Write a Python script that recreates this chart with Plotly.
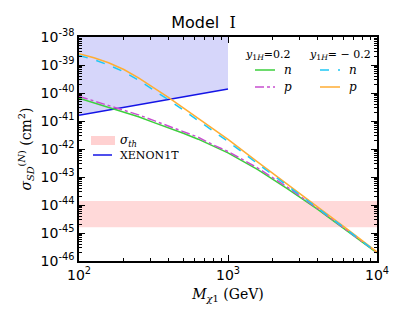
import plotly.graph_objects as go

# ---- data ----
mass = [100, 126, 158, 200, 251, 316, 398, 501, 631, 794, 1000, 1585, 2512, 3981, 6310, 10000]
n_pos = [6.46e-41, 4.47e-41, 3.09e-41, 2.14e-41, 1.41e-41, 8.9e-42, 5.75e-42, 3.63e-42, 2.24e-42, 1.26e-42,
         7.24e-43, 1.82e-43, 3.8e-44, 7.08e-45, 1.17e-45, 1.95e-46]
p_pos = [7.59e-41, 5.25e-41, 3.63e-41, 2.51e-41, 1.66e-41, 1.05e-41, 6.76e-42, 4.27e-42, 2.63e-42, 1.41e-42,
         8.13e-43, 2.09e-43, 4.27e-44, 7.59e-45, 1.23e-45, 2.0e-46]
n_neg = [2.19e-39, 1.55e-39, 1.0e-39, 5.75e-40, 2.88e-40, 1.32e-40, 5.75e-41, 2.45e-41, 1.05e-41, 4.47e-42,
         1.86e-42, 2.95e-43, 4.9e-44, 8.13e-45, 1.29e-45, 2.0e-46]
p_neg = [2.51e-39, 1.82e-39, 1.2e-39, 6.92e-40, 3.47e-40, 1.58e-40, 6.92e-41, 2.95e-41, 1.26e-41, 5.25e-42,
         2.19e-42, 3.39e-43, 5.5e-44, 8.91e-45, 1.38e-45, 2.09e-46]
xenon_mass = [100, 1000]
xenon_sigma = [1.6e-41, 1.4e-40]
xenon_top = [1e-38, 1e-38]
band_mass = [100, 10000]
band_low = [1.6e-45, 1.6e-45]
band_high = [1.4e-44, 1.4e-44]
y_tickvals = [1e-38, 1e-39, 1e-40, 1e-41, 1e-42, 1e-43, 1e-44, 1e-45, 1e-46]
y_ticktext = ["10<sup>-38</sup>", "10<sup>-39</sup>", "10<sup>-40</sup>", "10<sup>-41</sup>",
              "10<sup>-42</sup>", "10<sup>-43</sup>", "10<sup>-44</sup>", "10<sup>-45</sup>", "10<sup>-46</sup>"]
x_tickvals = [100, 1000, 10000]
x_ticktext = ["10<sup>2</sup>", "10<sup>3</sup>", "10<sup>4</sup>"]

GREEN = "#3ccf3c"
MAGENTA = "#c84fd0"
CYAN = "#1ec8f5"
ORANGE = "#ffad33"
BLUE = "#1414e6"
PINK = "rgba(255,160,160,0.4)"
LAV = "rgba(120,120,240,0.3)"

fig = go.Figure()
# pink band
fig.add_trace(go.Scatter(x=band_mass, y=band_low, mode="lines", line=dict(width=0), showlegend=False, hoverinfo="skip"))
fig.add_trace(go.Scatter(x=band_mass, y=band_high, mode="lines", line=dict(width=0), fill="tonexty",
                         fillcolor=PINK, showlegend=False, hoverinfo="skip"))
# xenon shaded
fig.add_trace(go.Scatter(x=xenon_mass, y=xenon_sigma, mode="lines", line=dict(width=0), showlegend=False, hoverinfo="skip"))
fig.add_trace(go.Scatter(x=xenon_mass, y=xenon_top, mode="lines", line=dict(width=0), fill="tonexty",
                         fillcolor=LAV, showlegend=False, hoverinfo="skip"))
fig.add_trace(go.Scatter(x=xenon_mass, y=xenon_sigma, mode="lines", line=dict(color=BLUE, width=1.5), showlegend=False))

fig.add_trace(go.Scatter(x=mass, y=n_pos, mode="lines", line=dict(color=GREEN, width=1.5), showlegend=False))
fig.add_trace(go.Scatter(x=mass, y=p_pos, mode="lines", line=dict(color=MAGENTA, width=1.5, dash="dashdot"), showlegend=False))
fig.add_trace(go.Scatter(x=mass, y=p_neg, mode="lines", line=dict(color=ORANGE, width=1.5), showlegend=False))
fig.add_trace(go.Scatter(x=mass, y=n_neg, mode="lines", line=dict(color=CYAN, width=1.5, dash="dash"), showlegend=False))

axis_common = dict(
    showline=True, linecolor="black", linewidth=1.5, mirror="ticks",
    ticks="inside", ticklen=6, tickwidth=1.2, tickcolor="black",
    showgrid=False, zeroline=False, automargin=False,
    tickfont=dict(family="DejaVu Sans", size=14, color="black"),
    minor=dict(ticks="inside", ticklen=3, tickwidth=0.8, tickcolor="black", showgrid=False, dtick="D1"),
)
fig.update_xaxes(type="log", range=[2, 4], tickvals=x_tickvals, ticktext=x_ticktext, **axis_common)
fig.update_yaxes(type="log", range=[-46, -38], tickvals=y_tickvals, ticktext=y_ticktext, **axis_common)

serif = "DejaVu Serif"
ann = []
shapes = []
def ptext(x, y, text, size=11, xanchor="left", family=serif):
    ann.append(dict(x=x, y=y, xref="paper", yref="paper", text=text, showarrow=False,
                    xanchor=xanchor, yanchor="middle", font=dict(family=family, size=size, color="black")))
# convert page pixel positions to paper coordinates (plot area px: x 79..377, y 37..261)
def px(x): return (x - 79) / 298.0
def py(y): return (261 - y) / 224.0
def sample(x0, x1, y, color, dash="solid", width=1.5):
    shapes.append(dict(type="line", xref="paper", yref="paper", x0=px(x0), x1=px(x1), y0=py(y), y1=py(y),
                       line=dict(color=color, width=width, dash=dash)))

ptext(px(243), py(55), "<i>y</i><sub>1<i>H</i></sub>=0.2", size=11)
ptext(px(307), py(55), "<i>y</i><sub>1<i>H</i></sub>= − 0.2", size=11)
sample(255, 275, 70, GREEN)
ptext(px(282), py(70), "<i>n</i>", size=12)
sample(255, 275, 87, MAGENTA, "dashdot")
ptext(px(282), py(87), "<i>p</i>", size=12)
sample(320, 340, 70, CYAN, "dash")
ptext(px(347), py(70), "<i>n</i>", size=12)
sample(320, 340, 87, ORANGE)
ptext(px(347), py(87), "<i>p</i>", size=12)

shapes.append(dict(type="rect", xref="paper", yref="paper", x0=px(91), x1=px(115), y0=py(145), y1=py(136),
                   line=dict(width=0), fillcolor="rgba(255,190,190,0.7)"))
ptext(px(118), py(141), "<i>σ</i><sub><i>th</i></sub>", size=12)
sample(93, 112, 155, BLUE)
ptext(px(118), py(155), "XENON1T", size=11)

# page has an 8px body margin, so the figure is sized/offset to compensate
fig.update_layout(
    width=391, height=304,
    margin=dict(l=71, r=22, t=29, b=51),
    paper_bgcolor="white", plot_bgcolor="white",
    title=dict(text="Model  <span style='font-family:DejaVu Serif'>I</span>", x=0.5, xanchor="center", y=0.954, yanchor="middle",
               font=dict(family="DejaVu Sans", size=16, color="black")),
    xaxis_title=dict(text="<i>M</i><sub><i>χ</i>1</sub> (GeV)", font=dict(family=serif, size=14, color="black"), standoff=8),
    yaxis_title=dict(text="<i>σ</i><sub><i>SD</i></sub><sup>(<i>N</i>)</sup> (cm<sup>2</sup>)", font=dict(family=serif, size=14, color="black"), standoff=6),
    annotations=ann, shapes=shapes,
    showlegend=False,
)

fig.write_html("out.html")
